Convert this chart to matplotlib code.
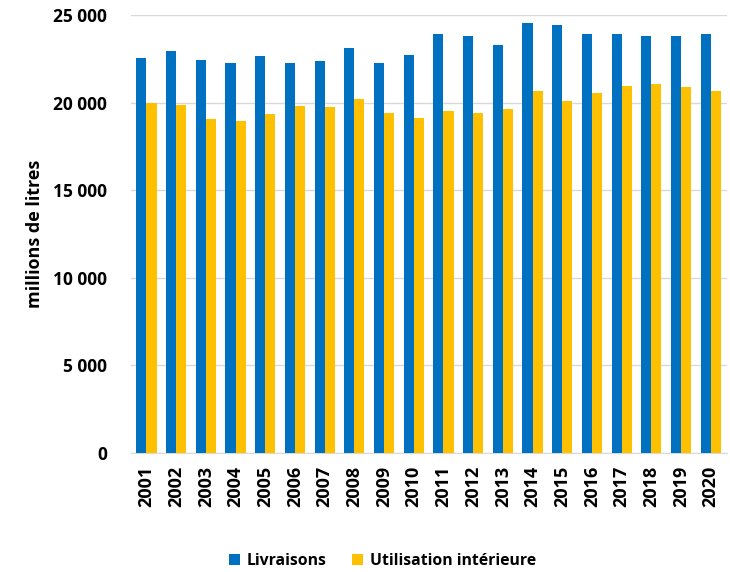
import numpy as np
import matplotlib.pyplot as plt
from matplotlib.ticker import FuncFormatter

years = [str(y) for y in range(2001, 2021)]
livraisons = [22530, 22960, 22410, 22240, 22640, 22240, 22340, 23130, 22240, 22720,
              23930, 23820, 23270, 24560, 24450, 23890, 23890, 23820, 23820, 23930]
utilisation = [19960, 19880, 19050, 18970, 19330, 19820, 19750, 20190, 19390, 19100,
               19520, 19390, 19650, 20640, 20070, 20560, 20930, 21060, 20870, 20640]

BLUE = '#0070C0'
YELLOW = '#FFC000'

plt.rcParams['font.family'] = ['Open Sans', 'DejaVu Sans']
plt.rcParams['font.weight'] = 'bold'

fig = plt.figure(figsize=(7.3, 5.72), dpi=100)
ax = fig.add_axes([0.179, 0.208, 0.817, 0.766])

x = np.arange(len(years))
w = 0.34
ax.bar(x - w / 2, livraisons, w, color=BLUE, label='Livraisons', zorder=3)
ax.bar(x + w / 2, utilisation, w, color=YELLOW, label='Utilisation intérieure', zorder=3)

ax.set_xlim(-0.53, len(years) - 0.45)
ax.set_ylim(0, 25000)
ax.set_yticks(range(0, 25001, 5000))
ax.yaxis.set_major_formatter(FuncFormatter(lambda v, p: f'{int(v):,}'.replace(',', ' ')))
ax.set_xticks(x)
ax.set_xticklabels(years, rotation=90, fontsize=13, fontweight='bold')
ax.tick_params(axis='y', labelsize=12.5, length=0, pad=17)
ax.tick_params(axis='x', length=0, pad=9)
ax.grid(axis='y', color='#D9D9D9', linewidth=1, zorder=0)
for s in ['top', 'right', 'left']:
    ax.spines[s].set_visible(False)
ax.spines['bottom'].set_color('#D9D9D9')
ax.set_ylabel('millions de litres', fontsize=13, fontweight='bold')
ax.yaxis.set_label_coords(-0.146, 0.5)

fig.legend(loc='center', bbox_to_anchor=(0.524, 0.02), ncol=2, frameon=False,
           fontsize=11.3, handlelength=0.7, handleheight=0.7, columnspacing=1.6,
           handletextpad=0.45)

fig.savefig('out.png', dpi=100)
